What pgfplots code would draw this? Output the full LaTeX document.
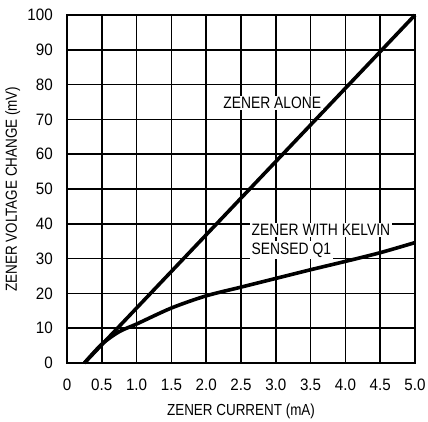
\documentclass[border=0pt]{standalone}
\usepackage{fontspec}
\setmainfont{Liberation Sans}[FakeStretch=0.84]
\newfontfamily\tickfont{Liberation Sans}[FakeStretch=0.92]
\usepackage{pgfplots}
\pgfplotsset{compat=1.18}
\begin{document}
\begin{tikzpicture}
\begin{axis}[
    scale only axis,
    width=348pt, height=348pt,
    xmin=0, xmax=5, ymin=0, ymax=100,
    xtick={0,0.5,1,1.5,2,2.5,3,3.5,4,4.5,5},
    xticklabels={0,0.5,1.0,1.5,2.0,2.5,3.0,3.5,4.0,4.5,5.0},
    ytick={0,10,20,30,40,50,60,70,80,90,100},
    /pgf/number format/assume math mode=true,
    grid=major,
    major grid style={black, line width=1.5pt},
    axis line style={black, line width=2.2pt},
    major tick length=0pt,
    tick label style={font=\tickfont\fontsize{16.5}{19}\selectfont, inner sep=0pt},
    xticklabel style={anchor=base, yshift=-27pt},
    yticklabel style={anchor=east, xshift=-14pt},
    xlabel={ZENER CURRENT (mA)},
    ylabel={ZENER VOLTAGE CHANGE (mV)},
    label style={font=\fontsize{16}{18}\selectfont, inner sep=0pt},
    xlabel style={at={(axis description cs:0.5,0)}, anchor=base, yshift=-52pt},
    ylabel style={at={(axis description cs:0,0.5)}, anchor=base, yshift=50pt},
    clip=false,
]
\addplot[black, line width=3.6pt] coordinates {(0.25,0) (5,100)};
\addplot[black, line width=3.6pt, smooth] coordinates {
    (0.25,0) (0.5,5.4) (0.75,9.0) (1.0,11.2) (1.5,15.8) (2.0,19.3)
    (2.5,21.8) (3.0,24.3) (3.5,26.8) (4.0,29.2) (4.5,31.7) (5.0,34.6)};
\node[fill=white, inner sep=1.5pt, font=\fontsize{16.5}{19}\selectfont]
    at (axis cs:2.95,74.7) {ZENER ALONE};
\node[fill=white, inner sep=1.5pt, anchor=base west,
    font=\fontsize{16.5}{19}\selectfont]
    at (axis cs:2.63,36.6) {ZENER WITH KELVIN};
\node[fill=white, inner sep=1.5pt, anchor=base west,
    font=\fontsize{16.5}{19}\selectfont]
    at (axis cs:2.63,31.3) {SENSED Q1};
\path (rel axis cs:0,0) ++(-67pt,-58pt);
\path (rel axis cs:1,1) ++(13pt,15pt);
\end{axis}
\end{tikzpicture}
\end{document}
